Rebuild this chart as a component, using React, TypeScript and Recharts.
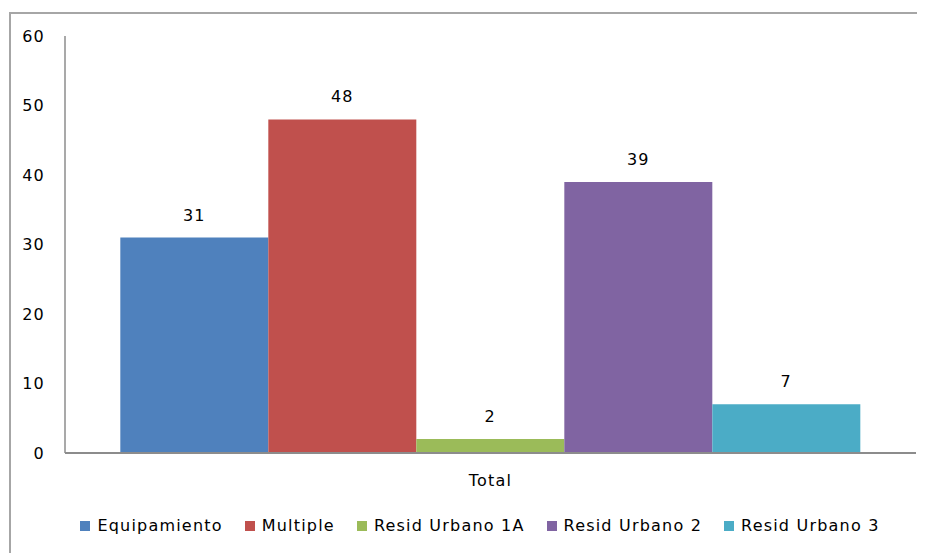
import { BarChart, Bar, XAxis, YAxis, Legend, LabelList } from 'recharts'

const categories = ['Total']
const seriesNames = ['Equipamiento', 'Multiple', 'Resid Urbano 1A', 'Resid Urbano 2', 'Resid Urbano 3']
const seriesValues = [31, 48, 2, 39, 7]
const seriesColors = ['#4F81BD', '#C0504D', '#9BBB59', '#8064A2', '#4BACC6']
const yTicks = [0, 10, 20, 30, 40, 50, 60]

const data = categories.map((cat) => {
  const row: Record<string, string | number> = { name: cat }
  seriesNames.forEach((s, i) => {
    row[s] = seriesValues[i]
  })
  return row
})

const FONT = '"DejaVu Sans", sans-serif'
const textStyle = { fill: '#000', fontSize: 16, fontFamily: FONT, letterSpacing: 1.2 }

function LegendContent({ payload }: any) {
  return (
    <div style={{ display: 'flex', justifyContent: 'center', fontFamily: FONT, fontSize: 16, letterSpacing: 1.2, color: '#000' }}>
      {(payload || []).map((p: any) => (
        <div key={p.value} style={{ display: 'flex', alignItems: 'center', marginRight: 22 }}>
          <span style={{ width: 10, height: 10, background: p.color, display: 'inline-block', marginRight: 7 }} />
          <span>{p.value}</span>
        </div>
      ))}
    </div>
  )
}

export default function App() {
  return (
    <div style={{ position: 'relative', width: 917, height: 545, fontFamily: FONT }}>
      <div
        style={{
          position: 'absolute',
          left: 1,
          top: 4,
          right: -20,
          bottom: -20,
          borderTop: '2px solid #a6a6a6',
          borderLeft: '2px solid #a6a6a6',
          pointerEvents: 'none',
        }}
      />
      <BarChart
        width={917}
        height={545}
        data={data}
        margin={{ top: 28, right: 9, left: 0, bottom: 8 }}
        barCategoryGap="6.5%"
        barGap={0}
      >
        <XAxis
          dataKey="name"
          axisLine={{ stroke: '#8c8c8c', strokeWidth: 2 }}
          tickLine={false}
          tickMargin={16}
          height={73}
          tick={textStyle}
        />
        <YAxis
          domain={[0, 60]}
          ticks={yTicks}
          width={57}
          axisLine={{ stroke: '#8c8c8c', strokeWidth: 1.5 }}
          tickLine={false}
          tickMargin={14}
          tick={textStyle}
        />
        <Legend verticalAlign="bottom" content={<LegendContent />} wrapperStyle={{ bottom: 18, left: 29 }} />
        {seriesNames.map((s, i) => (
          <Bar key={s} dataKey={s} fill={seriesColors[i]} isAnimationActive={false}>
            <LabelList dataKey={s} position="top" offset={17} {...textStyle} />
          </Bar>
        ))}
      </BarChart>
    </div>
  )
}
